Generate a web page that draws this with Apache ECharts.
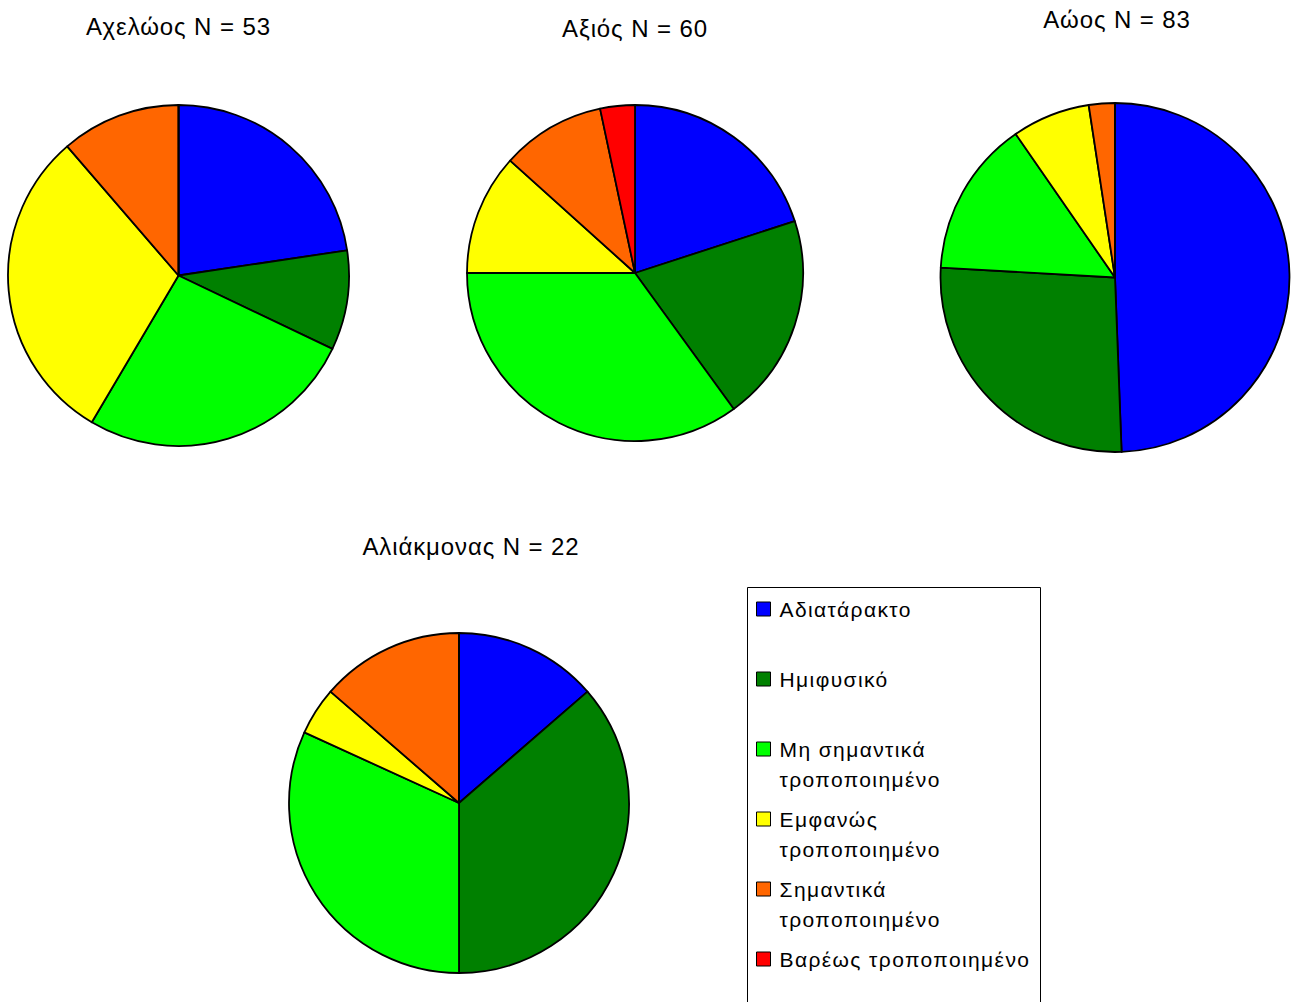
<!DOCTYPE html>
<html>
<head>
<meta charset="utf-8">
<script src="https://cdn.jsdelivr.net/npm/echarts@6/dist/echarts.min.js"></script>
<style>
  html, body { margin: 0; padding: 0; background: #ffffff; }
  #chart { width: 1292px; height: 1002px; }
  /* slightly open tracking for the titles and the legend text */
  #chart text[style*="24px"] { letter-spacing: 0.9px; }
  #chart text[style*="21px"] { letter-spacing: 1.4px; }
</style>
</head>
<body>
<div id="chart"></div>
<script>
// Ecological status classes (legend order)
const categories = [
  'Αδιατάρακτο',
  'Ημιφυσικό',
  'Μη σημαντικά τροποποιημένο',
  'Εμφανώς τροποποιημένο',
  'Σημαντικά τροποποιημένο',
  'Βαρέως τροποποιημένο'
];
// Legend text broken into lines
const legendLines = [
  ['Αδιατάρακτο'],
  ['Ημιφυσικό'],
  ['Μη σημαντικά', 'τροποποιημένο'],
  ['Εμφανώς', 'τροποποιημένο'],
  ['Σημαντικά', 'τροποποιημένο'],
  ['Βαρέως τροποποιημένο']
];
const classColors = ['#0000ff', '#008000', '#00ff00', '#ffff00', '#ff6600', '#ff0000'];

// Rivers and number of sites per class
const rivers = ['Αχελώος', 'Αξιός', 'Αώος', 'Αλιάκμονας'];
const acheloos   = [12, 5, 14, 16, 6, 0];
const axios      = [12, 12, 21, 7, 6, 2];
const aoos       = [41, 22, 12, 6, 2, 0];
const aliakmonas = [3, 8, 7, 1, 3, 0];
const riverCounts = [acheloos, axios, aoos, aliakmonas];

// Layout of each pie: centre, radius, title position
const pieLayout = [
  { cx: 178.5, cy: 275.5, r: 170.5, tx: 178.5, ty: 26 },
  { cx: 635,   cy: 273,   r: 168,   tx: 635,   ty: 28 },
  { cx: 1115,  cy: 277.5, r: 174.5, tx: 1117,  ty: 19 },
  { cx: 459,   cy: 803,   r: 170,   tx: 471,   ty: 546 }
];
const FONT = '"Liberation Sans", Arial, sans-serif';

const series = riverCounts.map((counts, k) => ({
  type: 'pie',
  name: rivers[k],
  center: [pieLayout[k].cx, pieLayout[k].cy],
  radius: [0, pieLayout[k].r],
  startAngle: 90,
  clockwise: true,
  avoidLabelOverlap: false,
  label: { show: false },
  labelLine: { show: false },
  emphasis: { disabled: true },
  silent: true,
  itemStyle: { borderColor: '#000000', borderWidth: 1.8 },
  data: counts.map((v, i) => ({ name: categories[i], value: v }))
}));

// Titles: river name and total number of sites
const titles = riverCounts.map((counts, k) => ({
  type: 'text',
  x: pieLayout[k].tx,
  y: pieLayout[k].ty,
  style: {
    text: rivers[k] + ' N = ' + counts.reduce((a, b) => a + b, 0),
    fontSize: 24,
    fontFamily: FONT,
    fill: '#000000',
    textAlign: 'center',
    textVerticalAlign: 'middle',
    align: 'center',
    verticalAlign: 'middle'
  }
}));

// One legend block per class, first text line centred on the swatch
const legendFirstLineY = [609, 679, 749, 819, 889, 959];
const legends = categories.map((name, i) => {
  const lines = legendLines[i];
  const twoLine = lines.length > 1;
  return {
    data: [name],
    orient: 'vertical',
    left: 756,
    top: legendFirstLineY[i] - (twoLine ? 45 : 15),
    padding: 0,
    itemGap: 0,
    itemWidth: 14,
    itemHeight: 14,
    icon: 'rect',
    selectedMode: false,
    itemStyle: { borderColor: '#000000', borderWidth: 1 },
    textStyle: {
      fontSize: 21,
      lineHeight: 30,
      fontFamily: FONT,
      color: '#000000',
      padding: [0, 0, 0, 4]
    },
    formatter: () => twoLine ? '\u00a0\n' + lines.join('\n') : lines[0]
  };
});

const chart = echarts.init(document.getElementById('chart'), null, { renderer: 'svg' });
chart.setOption({
  animation: false,
  backgroundColor: '#ffffff',
  color: classColors,
  legend: legends,
  graphic: titles.concat([{
    type: 'rect',
    shape: { x: 747.5, y: 587.5, width: 293, height: 430 },
    style: { fill: 'none', stroke: '#000000', lineWidth: 1 },
    z: -1
  }]),
  series: series
});
</script>
</body>
</html>
